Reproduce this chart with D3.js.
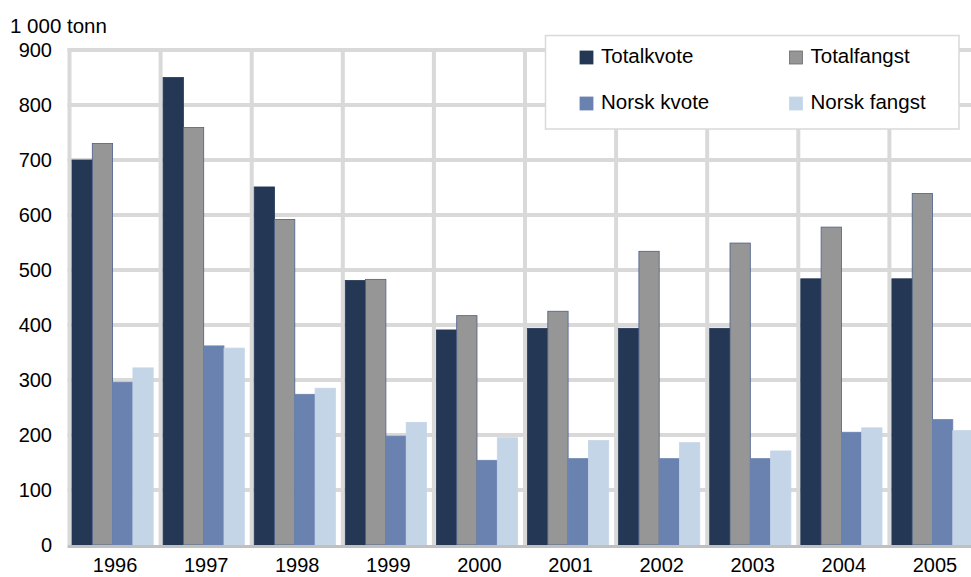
<!DOCTYPE html>
<html>
<head>
<meta charset="utf-8">
<script src="https://cdn.jsdelivr.net/npm/d3@7"></script>
<style>
  html, body { margin: 0; padding: 0; background: #fff; }
  svg { display: block; font-family: "Liberation Sans", Arial, sans-serif; }
</style>
</head>
<body>
<svg id="chart" width="971" height="577"></svg>
<script>
// data
const years = ['1996','1997','1998','1999','2000','2001','2002','2003','2004','2005'];
const seriesNames = ['Totalkvote','Totalfangst','Norsk kvote','Norsk fangst'];
const totalkvote  = [700, 850, 651, 481, 391, 394, 394, 394, 484, 484];
const totalfangst = [730, 759, 592, 483, 417, 425, 534, 549, 578, 639];
const norskKvote  = [296, 362, 274, 198, 154, 157, 157, 157, 205, 228];
const norskFangst = [322, 358, 285, 223, 195, 190, 186, 171, 213, 208];
const yTicks = [0, 100, 200, 300, 400, 500, 600, 700, 800, 900];

const colors = ['#243754', '#969696', '#6a82b0', '#c5d5e8'];
const strokes = ['#243754', '#4a5f8a', '#6a82b0', '#c5d5e8'];

const rows = years.map((yr, i) => ({
  year: yr,
  values: [totalkvote[i], totalfangst[i], norskKvote[i], norskFangst[i]]
}));

const svg = d3.select('#chart');
const plotL = 69.5, plotR = 980.5, plotT = 50, plotB = 545;

const x = d3.scaleBand().domain(years).range([plotL, plotR]).padding(0);
const xs = d3.scaleBand().domain(d3.range(4)).range([2.5, 2.5 + 4 * 20.3]).padding(0);
const y = d3.scaleLinear().domain([0, 900]).range([plotB, plotT]);

// grid
const grid = svg.append('g');
grid.selectAll('line.h')
  .data(yTicks.filter(d => d > 0))
  .join('line')
  .attr('x1', plotL - 2).attr('x2', 971)
  .attr('y1', d => y(d)).attr('y2', d => y(d))
  .attr('stroke', '#d9d9d9').attr('stroke-width', 4);
grid.selectAll('line.v')
  .data(years)
  .join('line')
  .attr('x1', d => x(d)).attr('x2', d => x(d))
  .attr('y1', plotT - 2).attr('y2', plotB)
  .attr('stroke', '#d9d9d9').attr('stroke-width', 4);

// bars
const groups = svg.append('g').selectAll('g')
  .data(rows)
  .join('g')
  .attr('transform', d => `translate(${x(d.year)},0)`);
groups.selectAll('rect')
  .data(d => d.values.map((v, j) => ({ v, j })))
  .join('rect')
  .attr('x', d => xs(d.j))
  .attr('width', xs.bandwidth())
  .attr('y', d => y(d.v))
  .attr('height', d => plotB - y(d.v))
  .attr('fill', d => colors[d.j])
  .attr('stroke', d => strokes[d.j])
  .attr('stroke-width', 0.8);

// bottom axis line
svg.append('line')
  .attr('x1', plotL - 2).attr('x2', 971)
  .attr('y1', plotB + 1.5).attr('y2', plotB + 1.5)
  .attr('stroke', '#c0c0c0').attr('stroke-width', 3);

// y labels
svg.append('g').selectAll('text')
  .data(yTicks)
  .join('text')
  .attr('x', 52)
  .attr('y', d => y(d) + 7)
  .attr('text-anchor', 'end')
  .attr('font-size', 20)
  .attr('fill', '#000')
  .text(d => d);

svg.append('text')
  .attr('x', 10).attr('y', 33)
  .attr('font-size', 20.5)
  .text('1 000 tonn');

// x labels
svg.append('g').selectAll('text')
  .data(years)
  .join('text')
  .attr('x', d => x(d) + x.bandwidth() / 2)
  .attr('y', 572)
  .attr('text-anchor', 'middle')
  .attr('font-size', 20)
  .text(d => d);

// legend
const lg = svg.append('g');
lg.append('rect')
  .attr('x', 545.5).attr('y', 35.5)
  .attr('width', 413.5).attr('height', 93.5)
  .attr('fill', '#fff')
  .attr('stroke', '#d9d9d9').attr('stroke-width', 1.5);
const legPos = [[580, 57.5], [789.5, 57.5], [580, 103.5], [789.5, 103.5]];
const items = lg.selectAll('g.item')
  .data(seriesNames)
  .join('g')
  .attr('transform', (d, i) => `translate(${legPos[i][0]},${legPos[i][1]})`);
items.append('rect')
  .attr('x', 0).attr('y', -6.5)
  .attr('width', 13).attr('height', 13)
  .attr('fill', (d, i) => colors[i])
  .attr('stroke', (d, i) => i === 1 ? '#6a6a6a' : colors[i])
  .attr('stroke-width', 0.8);
items.append('text')
  .attr('x', 21).attr('y', 5.3)
  .attr('font-size', 20.5)
  .text(d => d);
</script>
</body>
</html>
